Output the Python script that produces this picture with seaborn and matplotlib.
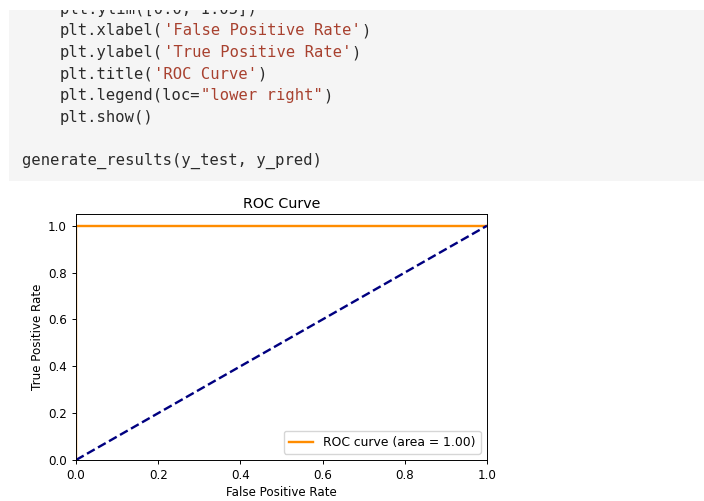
import matplotlib
matplotlib.use("Agg")
import matplotlib.pyplot as plt
from matplotlib.patches import Rectangle
import numpy as np
import pandas as pd
import seaborn as sns

# ROC curve data
fpr = [0.0, 0.0, 1.0]
tpr = [0.0, 1.0, 1.0]
chance_x = [0.0, 1.0]
chance_y = [0.0, 1.0]
roc_auc = 1.00
x_ticks = [0.0, 0.2, 0.4, 0.6, 0.8, 1.0]
y_ticks = [0.0, 0.2, 0.4, 0.6, 0.8, 1.0]

# Notebook code cell lines: list of (indent, [(text, kind), ...])
code_lines = [
    (4, [("plt.ylim([0.0, 1.05])", "code")]),
    (4, [("plt.xlabel(", "code"), ("'False Positive Rate'", "str"), (")", "code")]),
    (4, [("plt.ylabel(", "code"), ("'True Positive Rate'", "str"), (")", "code")]),
    (4, [("plt.title(", "code"), ("'ROC Curve'", "str"), (")", "code")]),
    (4, [("plt.legend(loc=", "code"), ('"lower right"', "str"), (")", "code")]),
    (4, [("plt.show()", "code")]),
    (0, []),
    (0, [("generate_results(y_test, y_pred)", "code")]),
]
token_colors = {"code": "#2b2b2b", "str": "#a8412f"}

W, H = 704, 501
DPI = 100
fig = plt.figure(figsize=(W / DPI, H / DPI), dpi=DPI)
fig.patch.set_facecolor("white")


def fx(px):
    return px / W


def fy(py):
    return 1 - py / H


# ---- code cell ----
cell_left, cell_top, cell_right, cell_bottom = 9, 10, 704, 181
code_ax = fig.add_axes([fx(cell_left), fy(cell_bottom),
                        fx(cell_right - cell_left), (cell_bottom - cell_top) / H])
code_ax.set_xlim(cell_left, cell_right)
code_ax.set_ylim(cell_bottom, cell_top)
code_ax.axis("off")
code_ax.add_patch(Rectangle((cell_left, cell_top), cell_right - cell_left,
                            cell_bottom - cell_top, facecolor="#f5f5f5",
                            edgecolor="none", zorder=0))

char_w = 9.4
x0 = 22.5
line_y0 = 9.3
line_h = 21.6
for i, (indent, tokens) in enumerate(code_lines):
    y = line_y0 + i * line_h
    col = indent
    for text, kind in tokens:
        code_ax.text(x0 + col * char_w, y, text, family="DejaVu Sans Mono",
                     fontsize=11.2, color=token_colors[kind], va="center",
                     ha="left", clip_on=True, zorder=2)
        col += len(text)

# ---- ROC chart ----
ax_l, ax_r, ax_t, ax_b = 76, 487, 214, 460
ax = fig.add_axes([fx(ax_l), fy(ax_b), fx(ax_r - ax_l), (ax_b - ax_t) / H])

roc_df = pd.DataFrame({"fpr": fpr, "tpr": tpr})
chance_df = pd.DataFrame({"x": chance_x, "y": chance_y})

sns.lineplot(data=roc_df, x="fpr", y="tpr", sort=False, estimator=None,
             color="darkorange", lw=1.72,
             label="ROC curve (area = %0.2f)" % roc_auc, ax=ax)
sns.lineplot(data=chance_df, x="x", y="y", sort=False, estimator=None,
             color="navy", lw=1.72, linestyle="--", ax=ax)

ax.set_xlim(0.0, 1.0)
ax.set_ylim(0.0, 1.05)
ax.set_xticks(x_ticks)
ax.set_yticks(y_ticks)
ax.tick_params(labelsize=8.6, width=0.69, length=3)
for s in ax.spines.values():
    s.set_linewidth(0.69)
ax.set_xlabel("False Positive Rate", fontsize=8.6, labelpad=3)
ax.set_ylabel("True Positive Rate", fontsize=8.6, labelpad=3)
ax.set_title("ROC Curve", fontsize=10.3, pad=4)
ax.legend(loc="lower right", fontsize=8.9)

fig.savefig("out.png", dpi=DPI)
